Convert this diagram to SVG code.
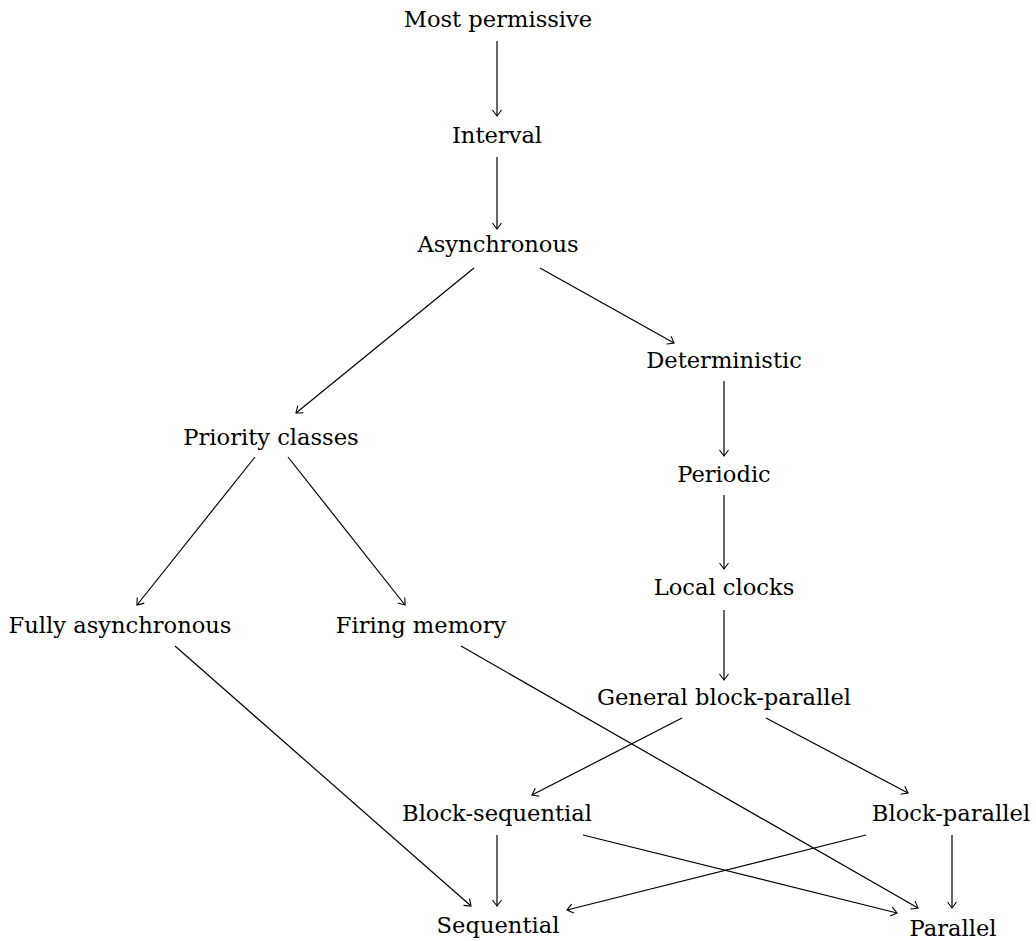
<svg xmlns="http://www.w3.org/2000/svg" width="1036" height="941" viewBox="0 0 1036 941">
<defs>
<style>
text{font-family:'DejaVu Serif',serif;font-size:22.6px;fill:#000;text-anchor:middle}
.e{stroke:#000;stroke-width:1.2;fill:none;marker-end:url(#ah)}
</style>
<marker id="ah" viewBox="-8 -6 10 12" markerWidth="10" markerHeight="12" refX="0" refY="0" orient="auto" markerUnits="userSpaceOnUse">
<path d="M-6,-4.5 Q-1.5,-1.2 0,0 Q-1.5,1.2 -6,4.5" fill="none" stroke="#000" stroke-width="1.1"/>
</marker>
</defs>
<rect width="1036" height="941" fill="#fff"/>
<g id="edges">
<line class="e" x1="497" y1="41" x2="497" y2="116"/>
<line class="e" x1="497" y1="157" x2="497" y2="229"/>
<line class="e" x1="474" y1="268" x2="296" y2="413"/>
<line class="e" x1="540" y1="268" x2="674" y2="343"/>
<line class="e" x1="724" y1="381" x2="724" y2="456"/>
<line class="e" x1="255" y1="457" x2="137" y2="605"/>
<line class="e" x1="288" y1="457" x2="405" y2="605"/>
<line class="e" x1="724" y1="495" x2="724" y2="569"/>
<line class="e" x1="724" y1="610" x2="724" y2="680"/>
<line class="e" x1="175" y1="646" x2="471" y2="906"/>
<line class="e" x1="461" y1="646" x2="918" y2="908"/>
<line class="e" x1="682" y1="718" x2="532" y2="795"/>
<line class="e" x1="766" y1="718" x2="908" y2="793"/>
<line class="e" x1="497" y1="835" x2="497" y2="906"/>
<line class="e" x1="583" y1="835" x2="897" y2="913"/>
<line class="e" x1="866" y1="835" x2="567" y2="910"/>
<line class="e" x1="952" y1="835" x2="952" y2="908"/>
</g>
<g id="n1"><text x="498" y="27">Most permissive</text></g>
<g id="n2"><text x="497" y="143">Interval</text></g>
<g id="n3"><text x="498" y="252">Asynchronous</text></g>
<g id="n4"><text x="724" y="368">Deterministic</text></g>
<g id="n5"><text x="271" y="445">Priority classes</text></g>
<g id="n6"><text x="724" y="482">Periodic</text></g>
<g id="n7"><text x="724" y="595">Local clocks</text></g>
<g id="n8"><text x="120" y="633">Fully asynchronous</text></g>
<g id="n9"><text x="421" y="633">Firing memory</text></g>
<g id="n10"><text x="724" y="705">General block-parallel</text></g>
<g id="n11"><text x="497" y="821">Block-sequential</text></g>
<g id="n12"><text x="951" y="821">Block-parallel</text></g>
<g id="n13"><text x="498" y="933">Sequential</text></g>
<g id="n14"><text x="953" y="936">Parallel</text></g>
</svg>
